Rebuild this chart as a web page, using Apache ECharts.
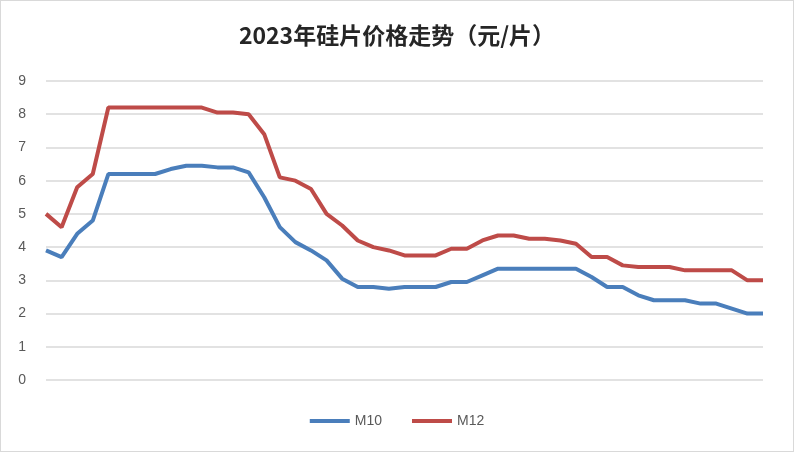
<!DOCTYPE html>
<html style="height: 100%">
<head><meta charset="utf-8"></head>
<body style="height: 100%; margin: 0">
<div id="container" style="height: 450px; width: 792px; border: 1px solid #d9d9d9"></div>
<script src="https://cdn.jsdelivr.net/npm/echarts@6/dist/echarts.min.js"></script>
<script>
var m10 = [3.9,3.7,4.4,4.8,6.2,6.2,6.2,6.2,6.35,6.45,6.45,6.4,6.4,6.25,5.5,4.6,4.15,3.9,3.6,3.05,2.8,2.8,2.75,2.8,2.8,2.8,2.95,2.95,3.15,3.35,3.35,3.35,3.35,3.35,3.35,3.1,2.8,2.8,2.55,2.4,2.4,2.4,2.3,2.3,2.15,2.0,2.0];
var m12 = [5.0,4.6,5.8,6.2,8.2,8.2,8.2,8.2,8.2,8.2,8.2,8.05,8.05,8.0,7.4,6.1,6.0,5.75,5.0,4.65,4.2,4.0,3.9,3.75,3.75,3.75,3.95,3.95,4.2,4.35,4.35,4.25,4.25,4.2,4.1,3.7,3.7,3.45,3.4,3.4,3.4,3.3,3.3,3.3,3.3,3.0,3.0];
var cats = m10.map(function (v, i) { return String(i + 1); });

var myChart = echarts.init(document.getElementById('container'));
var option = {
    title: {
        text: '2023年硅片价格走势（元/片）', left: 'center', top: 18,
        textStyle: { fontSize: 23, fontWeight: 'bold', color: '#262626', fontFamily: 'Noto Sans CJK SC' }
    },
    legend: {
        bottom: 18, itemWidth: 40, itemHeight: 4, itemGap: 30,
        icon: 'rect', textStyle: { fontSize: 14, color: '#595959' }
    },
    grid: { left: 45, right: 30, top: 80, bottom: 71 },
    xAxis: {
        type: 'category', data: cats, boundaryGap: false,
        axisLine: { show: false }, axisTick: { show: false }, axisLabel: { show: false }
    },
    yAxis: {
        type: 'value', min: 0, max: 9, interval: 1,
        axisLabel: { color: '#595959', fontSize: 14, margin: 20 },
        splitLine: { lineStyle: { color: '#d9d9d9', width: 1.5 } }
    },
    series: [
        { name: 'M10', type: 'line', data: m10, showSymbol: false, lineStyle: { width: 4, color: '#4a7ebb' }, itemStyle: { color: '#4a7ebb' } },
        { name: 'M12', type: 'line', data: m12, showSymbol: false, lineStyle: { width: 4, color: '#be4b48' }, itemStyle: { color: '#be4b48' } }
    ]
};
myChart.setOption(option);
</script>
</body>
</html>
